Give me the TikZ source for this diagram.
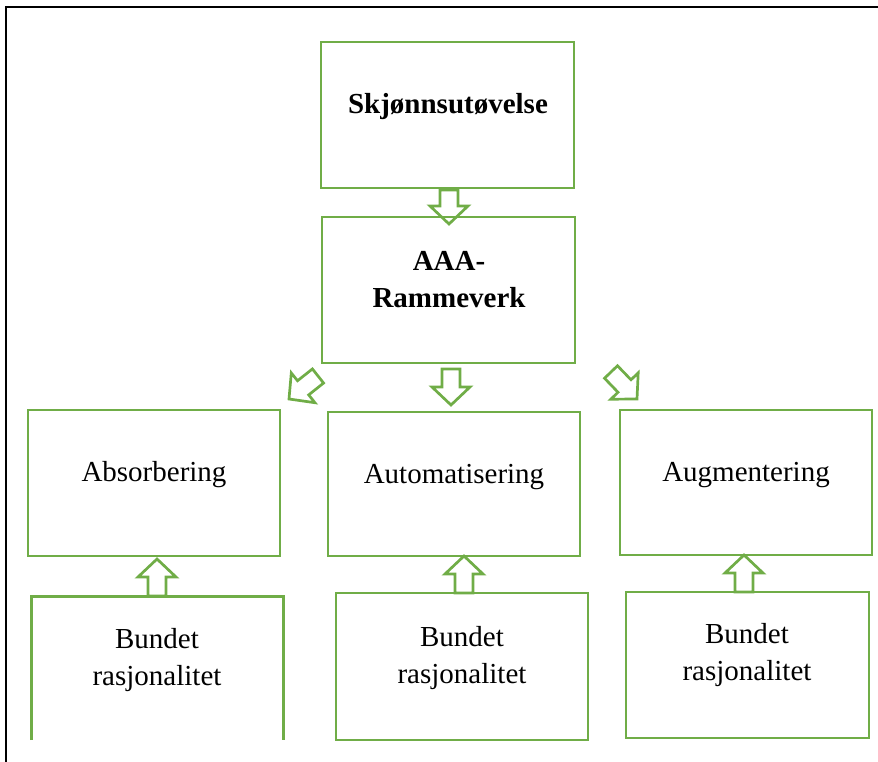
\documentclass[tikz,border=0pt]{standalone}
\usepackage{fontspec}
\setmainfont{Liberation Serif}
\usetikzlibrary{calc}
\definecolor{boxgreen}{RGB}{112,173,71}
\tikzset{
  box/.style={draw=boxgreen, line width=2.7pt, rectangle, inner sep=0pt},
  openbox/.style={rectangle, inner sep=0pt},
  arr/.style={draw=boxgreen, line width=2.7pt, line join=miter},
  txt/.style={font=\fontsize{29}{36.5}\selectfont, align=center, anchor=base, inner sep=0pt},
  btxt/.style={font=\fontsize{29}{36.5}\selectfont\bfseries, align=center, anchor=base, inner sep=0pt},
  frameline/.style={draw=black, line width=2.4pt},
}
\newcommand\blockarr[2]{%
  \path let \p1=(#1), \p2=(#2), \n1={atan2(\y2-\y1,\x2-\x1)}, \n2={veclen(\x2-\x1,\y2-\y1)} in
    \pgfextra{\xdef\arrang{\n1}\xdef\arrlen{\n2}\xdef\arrx{\x1}\xdef\arry{\y1}};
  \draw[arr, shift={(\arrx,\arry)}, rotate=\arrang]
    (0pt,-9pt) -- ({(\arrlen-18)*1pt},-9pt) -- ({(\arrlen-18)*1pt},-19pt) -- ({\arrlen*1pt},0pt)
    -- ({(\arrlen-18)*1pt},19pt) -- ({(\arrlen-18)*1pt},9pt) -- (0pt,9pt) -- cycle;
}
\begin{document}
\begin{tikzpicture}[x=1pt,y=-1pt]
\useasboundingbox (0,0) rectangle (878,762);
% outer frame (top and left edges only)
\draw[frameline] (6,762) -- (6,7) -- (878,7);

% boxes
\node[box, minimum width=253pt, minimum height=146pt] (top) at (447.5,115) {};
\node[box, minimum width=253pt, minimum height=146pt] (mid) at (448.5,290) {};
\node[box, minimum width=252pt, minimum height=146pt] (abs) at (154,483) {};
\node[box, minimum width=252pt, minimum height=144pt] (aut) at (454,484) {};
\node[box, minimum width=252pt, minimum height=145pt] (aug) at (746,482.5) {};
\node[openbox, minimum width=251pt, minimum height=143pt] (b1) at (157.5,668.5) {};
\draw[box] (b1.south west) -- (b1.north west) -- (b1.north east) -- (b1.south east);
\node[box, minimum width=252pt, minimum height=147pt] (b2) at (462,666.5) {};
\node[box, minimum width=243pt, minimum height=146pt] (b3) at (747.5,665) {};

% texts (base anchor = baseline of the last line)
\node[btxt] (ttop) at (448,114) {Skjønnsutøvelse};
\node[btxt] (tmid) at (449,307) {AAA-\\Rammeverk};
\node[txt] (tabs) at (154,481) {Absorbering};
\node[txt] (taut) at (454,483) {Automatisering};
\node[txt] (taug) at (746,481) {Augmentering};
\node[txt] (tb1) at (157,685) {Bundet\\rasjonalitet};
\node[txt] (tb2) at (462,683) {Bundet\\rasjonalitet};
\node[txt] (tb3) at (747,680) {Bundet\\rasjonalitet};

% arrow end points
\coordinate (a1t) at (449,190);   \coordinate (a1h) at (449,224);
\coordinate (a2t) at (451,369);   \coordinate (a2h) at (451,405);
\coordinate (a3t) at (318,376);   \coordinate (a3h) at (289,399);
\coordinate (a4t) at (611,372);   \coordinate (a4h) at (637,399);
\coordinate (a5t) at (157,596);   \coordinate (a5h) at (157,559);
\coordinate (a6t) at (464,593);   \coordinate (a6h) at (464,556);
\coordinate (a7t) at (744,592);   \coordinate (a7h) at (744,555);

\blockarr{a1t}{a1h}
\blockarr{a2t}{a2h}
\blockarr{a3t}{a3h}
\blockarr{a4t}{a4h}
\blockarr{a5t}{a5h}
\blockarr{a6t}{a6h}
\blockarr{a7t}{a7h}
\end{tikzpicture}
\end{document}
